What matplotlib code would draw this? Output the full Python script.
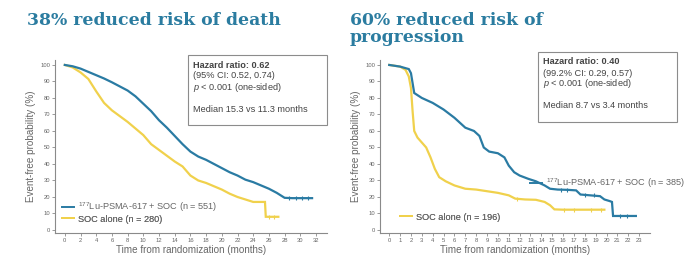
import matplotlib
matplotlib.use('Agg')
import matplotlib.pyplot as plt
from matplotlib.patches import Rectangle
from matplotlib.lines import Line2D

# ---------------- data ----------------
# Overall survival (left panel)
os_lu_t = [0, 1, 2, 3, 4, 5, 6, 7, 8, 9, 10, 11, 12, 13, 14, 15, 16, 17, 18, 19, 20,
           21, 22, 23, 24, 25, 26, 27, 28, 29, 30, 31.5]
os_lu_p = [100, 99.2, 97.8, 95.8, 93.8, 91.8, 89.5, 87, 84.5, 81, 76.5, 72, 66.5, 62, 57,
           52, 47.5, 44.5, 42.5, 40, 37.5, 35, 33, 30.5, 29, 27, 25, 22.5, 19.5, 19.3, 19.3, 19.3]
os_soc_t = [0, 1, 2, 3, 4, 5, 6, 7, 8, 9, 10, 11, 12, 13, 14, 15, 16, 17, 18, 19, 20,
            21, 22, 23, 24, 25, 25.5, 25.6, 27.2]
os_soc_p = [100, 98.5, 95.5, 91.5, 84, 77, 72.5, 69, 65.5, 61.5, 57.5, 52, 48.5, 45, 41.5,
            38.5, 33, 30, 28.5, 26.5, 24.5, 22, 20, 18.5, 17, 17, 17, 8, 8]
os_lu_cens_t = [28.6, 29.4, 30.2, 31.0]
os_lu_cens_p = [19.3, 19.3, 19.3, 19.3]
os_soc_cens_t = [26.0, 26.7]
os_soc_cens_p = [8, 8]

# Progression-free survival (right panel)
pfs_lu_t = [0, 1, 1.8, 2.0, 2.3, 3, 4, 5, 6, 7, 7.8, 8.3, 8.7, 9.2, 10, 10.6, 11, 11.5, 12,
            12.8, 13.5, 14.3, 14.8, 15.5, 16.5, 17.2, 17.6, 18.5, 19.4, 19.8, 20.3, 20.5,
            20.6, 21.5, 22.7]
pfs_lu_p = [100, 99, 97.5, 95, 83, 80, 77, 73, 68, 62, 60, 57, 50, 47.5, 46.5, 44, 39, 35, 33,
            31, 29.5, 27, 25, 24.5, 24.3, 24, 21.5, 21, 20.5, 18.5, 17.5, 17, 8.5, 8.5, 8.5]
pfs_soc_t = [0, 1, 1.5, 1.8, 2.0, 2.15, 2.3, 2.6, 3.0, 3.4, 3.8, 4.2, 4.6, 5.2, 6, 7, 8, 9,
             10, 11, 11.6, 12.5, 13.5, 14.3, 14.8, 15.2, 16, 17, 18, 19, 19.8]
pfs_soc_p = [100, 99, 97, 93, 86, 72, 60, 56, 53, 50, 44, 37, 32, 29.5, 27, 25, 24.5, 23.5,
             22.5, 21, 19, 18.5, 18.3, 17, 15, 12.5, 12.3, 12.3, 12.3, 12.3, 12.3]
pfs_lu_cens_t = [15.8, 16.4, 18.0, 18.8, 21.2, 21.9]
pfs_lu_cens_p = [24.4, 24.3, 21.3, 21.0, 8.5, 8.5]
pfs_soc_cens_t = [11.8, 16.1, 17.0, 18.6, 19.5]
pfs_soc_cens_p = [19.0, 12.3, 12.3, 12.3, 12.3]

titles = ["38% reduced risk of death", "60% reduced risk of", "progression"]
box_texts = [
    ["Hazard ratio: 0.62", "(95% CI: 0.52, 0.74)", r"$\it{p}$ < 0.001 (one-sided)",
     "Median 15.3 vs 11.3 months"],
    ["Hazard ratio: 0.40", "(99.2% CI: 0.29, 0.57)", r"$\it{p}$ < 0.001 (one-sided)",
     "Median 8.7 vs 3.4 months"],
]
lu_labels = [r"$^{177}$Lu-PSMA-617 + SOC (n = 551)", r"$^{177}$Lu-PSMA-617 + SOC (n = 385)"]
soc_labels = ["SOC alone (n = 280)", "SOC alone (n = 196)"]
xticks_left = list(range(0, 33, 2))
xticks_right = list(range(0, 24, 1))
yticks = list(range(0, 101, 10))
xlabel = "Time from randomization (months)"
ylabel = "Event-free probability (%)"

# ---------------- style ----------------
BLUE = '#2a7ba3'
YELLOW = '#f0d14c'
TITLE = '#2b7ca0'
GREY = '#666666'
SPINE = '#8a8a8a'
plt.rcParams['font.family'] = ['Liberation Sans', 'DejaVu Sans']
plt.rcParams['mathtext.fontset'] = 'custom'
plt.rcParams['mathtext.rm'] = 'Liberation Sans'
plt.rcParams['mathtext.it'] = 'Liberation Sans:italic'

W, H = 689, 257
fig = plt.figure(figsize=(W / 100, H / 100), dpi=100)
fig.patch.set_facecolor('white')


def fx(px):
    return px / W


def fy(py):
    return 1 - py / H


def make_axes(x0, x1, xlim, xticks):
    ax = fig.add_axes([fx(x0), fy(233.3), fx(x1) - fx(x0), fy(60) - fy(233.3)])
    ax.set_xlim(*xlim)
    ax.set_ylim(-2, 103)
    ax.set_xticks(xticks)
    ax.set_yticks(yticks)
    for s in ['top', 'right']:
        ax.spines[s].set_visible(False)
    for s in ['left', 'bottom']:
        ax.spines[s].set_color(SPINE)
        ax.spines[s].set_linewidth(0.8)
    ax.tick_params(axis='both', labelsize=4.2, colors=SPINE, labelcolor=GREY,
                   length=2, width=0.6, pad=1.5)
    ax.set_xlabel(xlabel, fontsize=7.1, color=GREY, labelpad=1.5)
    ax.set_ylabel(ylabel, fontsize=7.1, color=GREY, labelpad=3)
    return ax


ax1 = make_axes(55, 327, (-1.25, 33.4), xticks_left)
ax2 = make_axes(380, 650, (-0.85, 24.0), xticks_right)

series = [
    (ax1, os_lu_t, os_lu_p, os_soc_t, os_soc_p,
     os_lu_cens_t, os_lu_cens_p, os_soc_cens_t, os_soc_cens_p),
    (ax2, pfs_lu_t, pfs_lu_p, pfs_soc_t, pfs_soc_p,
     pfs_lu_cens_t, pfs_lu_cens_p, pfs_soc_cens_t, pfs_soc_cens_p),
]
for ax, lt, lp, st, sp, lct, lcp, sct, scp in series:
    ax.plot(st, sp, color=YELLOW, lw=1.6, solid_joinstyle='miter')
    ax.plot(sct, scp, ls='none', marker='|', ms=2.5, mew=0.8, color=YELLOW)
    ax.plot(lt, lp, color=BLUE, lw=1.6, solid_joinstyle='miter')
    ax.plot(lct, lcp, ls='none', marker='|', ms=2.5, mew=0.8, color=BLUE)


# legends
def add_entry(ax, color, label, anchor):
    h = Line2D([], [], color=color, lw=1.4)
    leg = ax.legend([h], [label], loc='center left', bbox_to_anchor=anchor,
                    bbox_transform=fig.transFigure, frameon=False, fontsize=6.6,
                    handlelength=1.3, handletextpad=0.5, borderpad=0, borderaxespad=0)
    for t in leg.get_texts():
        t.set_color(GREY)
    ax.add_artist(leg)


add_entry(ax1, BLUE, lu_labels[0], (fx(62), fy(207)))
add_entry(ax1, YELLOW, soc_labels[0], (fx(62), fy(219)))
add_entry(ax2, BLUE, lu_labels[1], (fx(530), fy(183)))
add_entry(ax2, YELLOW, soc_labels[1], (fx(400), fy(217)))

# titles
for (px, py), t in zip([(27, 25), (350, 25), (350, 42)], titles):
    fig.text(fx(px), fy(py), t, family='DejaVu Serif', weight='bold', fontsize=12.4,
             color=TITLE, va='baseline', ha='left')

# info boxes
boxes = [(188, 55, 327, 125), (538, 52, 677, 122)]
line_off = [12.5, 23.5, 34.5, 56.5]   # baseline offsets from box top
for (x0, y0, x1, y1), lines in zip(boxes, box_texts):
    fig.patches.append(Rectangle((fx(x0), fy(y1)), fx(x1) - fx(x0), fy(y0) - fy(y1),
                                 transform=fig.transFigure, fill=False,
                                 edgecolor='#8c8c8c', lw=0.8))
    for i, (off, txt) in enumerate(zip(line_off, lines)):
        fig.text(fx(x0 + 5), fy(y0 + off), txt, fontsize=6.6, color='#444444',
                 va='baseline', ha='left', weight='bold' if i == 0 else 'normal')

fig.savefig('out.png', dpi=100, facecolor='white')
